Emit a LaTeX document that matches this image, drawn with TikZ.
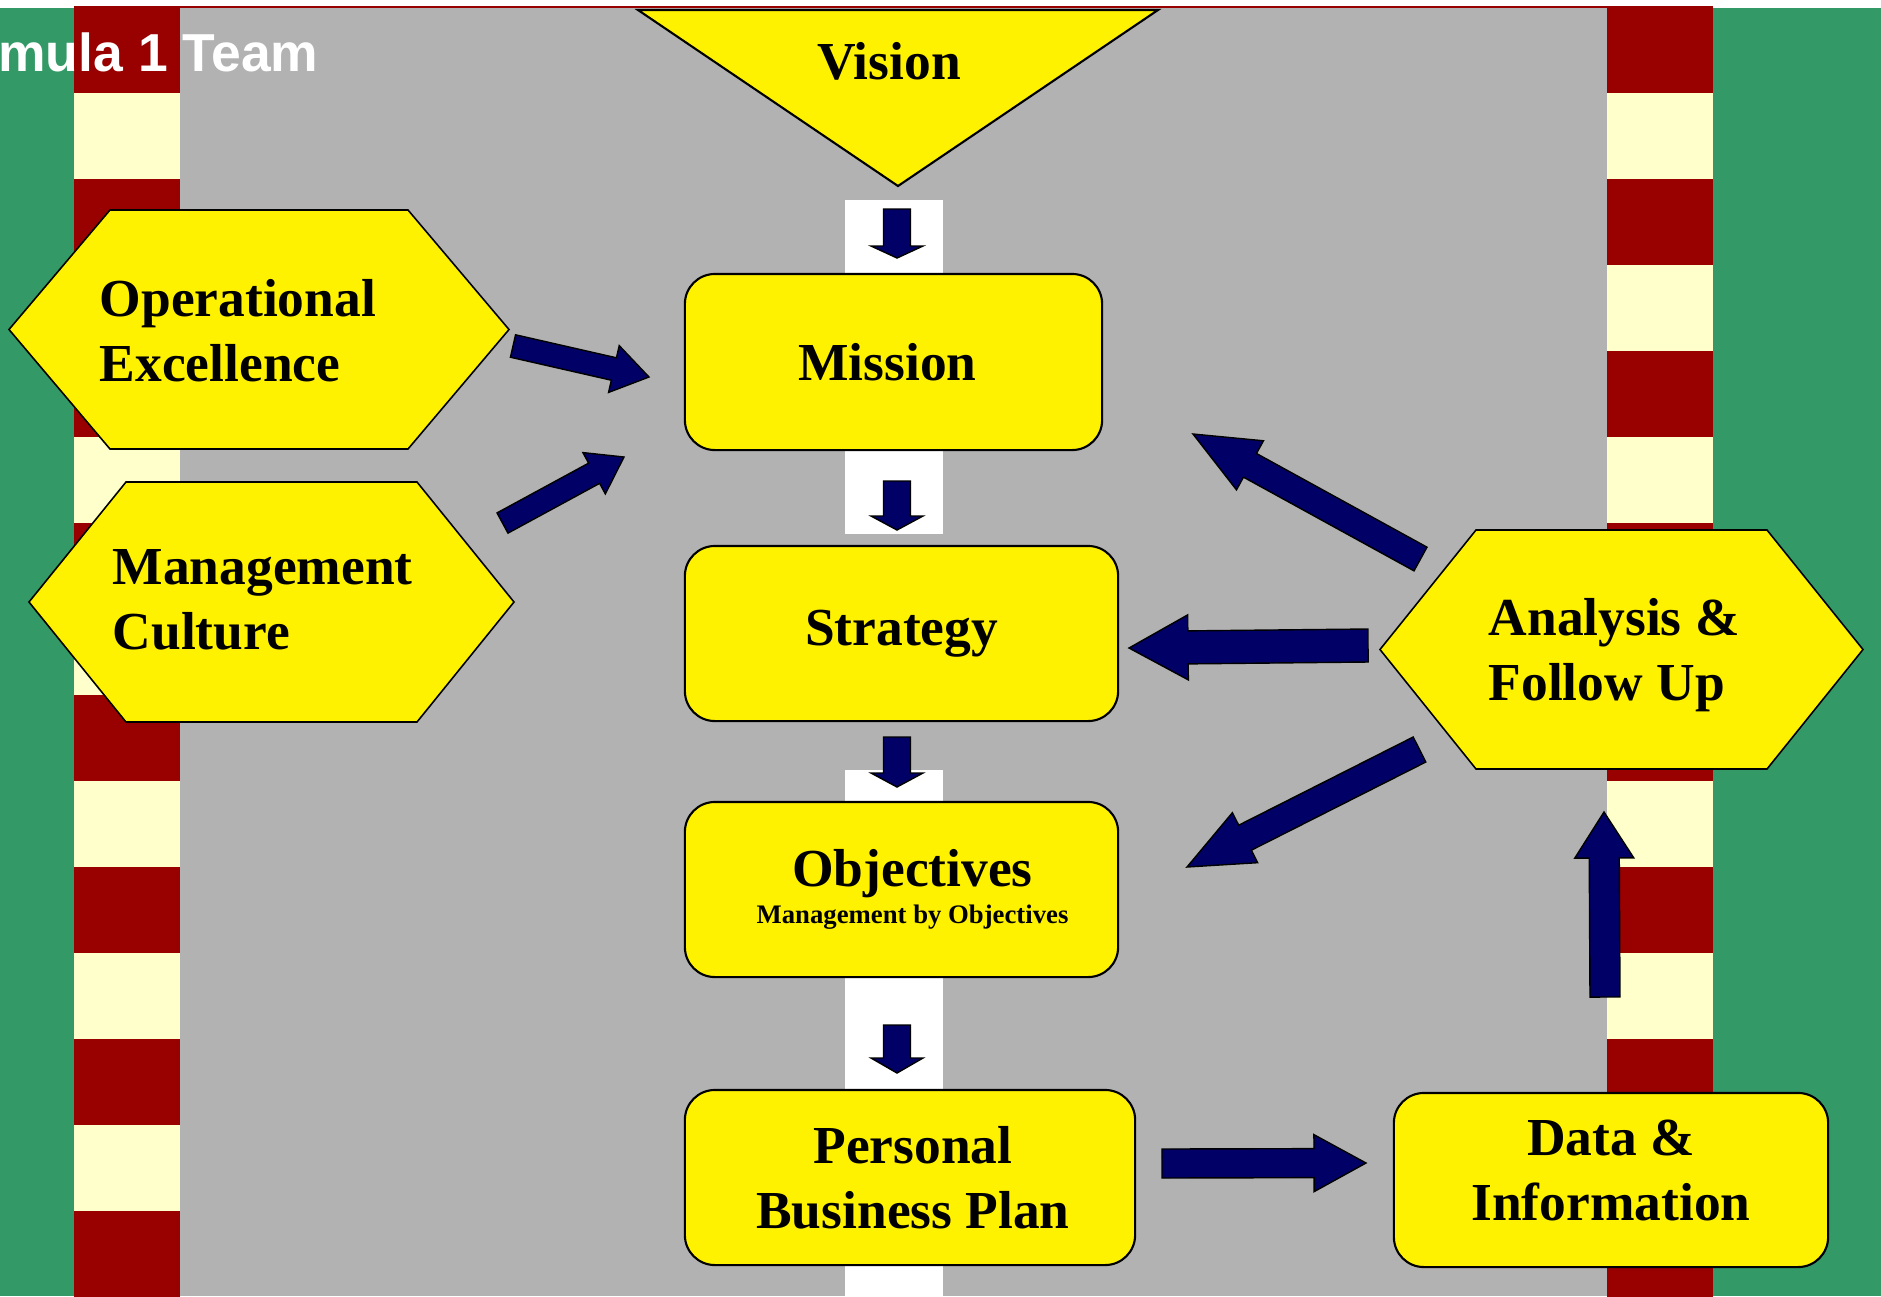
\documentclass[tikz,border=0pt]{standalone}
\usepackage{fontspec}
\setmainfont{Liberation Serif}
\newfontfamily\teamfont{Liberation Sans}
\usetikzlibrary{calc}
\definecolor{grass}{RGB}{51,153,102}
\definecolor{kerbred}{RGB}{153,0,0}
\definecolor{kerbwhite}{RGB}{255,255,204}
\definecolor{tarmac}{RGB}{178,178,178}
\definecolor{arrowblue}{RGB}{0,0,102}
\newcommand{\kerb}[1] % left x in px
{
	% red and cream blocks, 86px high
	\foreach \k in {0,...,14}
	{
		\ifodd\k \def\kc{kerbwhite}\else \def\kc{kerbred}\fi
		\fill[\kc] (#1,{7+86*\k}) rectangle (#1+106,{7+86*(\k+1)});
	}
}
\newcommand{\hexa}[5] % left x, top y, right x, bottom y, point depth
{
	\draw[hexline] (#1,{(#2+#4)/2}) -- (#1+#5,#2) -- (#3-#5,#2) -- (#3,{(#2+#4)/2}) -- (#3-#5,#4) -- (#1+#5,#4) -- cycle;
}
\newcommand{\barrow}[5] % tail, tip, shaft half width, head half width, head length in px
{
	\coordinate (hb) at ($(#2)!#5*0.01cm!(#1)$);
	\draw[blockarrow] ($(#1)!#3*0.01cm!90:(#2)$) -- ($(hb)!#3*0.01cm!90:(#2)$) -- ($(hb)!#4*0.01cm!90:(#2)$) -- (#2) -- ($(hb)!#4*0.01cm!-90:(#2)$) -- ($(hb)!#3*0.01cm!-90:(#2)$) -- ($(#1)!#3*0.01cm!-90:(#2)$) -- cycle;
}
\begin{document}
\begin{tikzpicture}[x=0.01cm, y=-0.01cm,
	bigtext/.style={font=\fontsize{15.2}{18.5}\selectfont\bfseries},
	stage/.style={draw, line width=0.6pt, fill=yellow, rounded corners=0.3cm, align=center, bigtext},
	hexline/.style={draw, line width=0.45pt, fill=yellow},
	hexlabel/.style={anchor=west, align=left, inner sep=0pt, bigtext},
	blockarrow/.style={draw, line width=0.4pt, fill=arrowblue}]
	% page 1881 x 1296 px, 1px = 0.01cm
	\useasboundingbox (0,0) rectangle (1881,1296);
	\fill[white] (0,0) rectangle (1881,1296);
	
	% grass, track and kerbs
	\fill[grass] (0,8) rectangle (74,1296);
	\fill[grass] (1713,8) rectangle (1881,1296);
	\fill[tarmac] (180,7) rectangle (1607,1296);
	\kerb{74}
	\kerb{1607}
	\draw[kerbred, line width=0.5pt] (74,7) -- (1713,7);
	
	% centre line
	\fill[white] (845,200) rectangle (943,534);
	\fill[white] (845,770) rectangle (943,1296);
	
	\node[anchor=base east, text=white, inner sep=0pt, font=\teamfont\fontsize{15.2}{18}\selectfont\bfseries] (team) at (319,71) {mula 1 Team};
	
	% vision
	\draw[hexline, line width=0.6pt] (638,10) -- (1158,10) -- (898,186) -- cycle;
	\node[anchor=base, inner sep=0pt, bigtext] (vision) at (889,79) {Vision};
	
	% hexagons
	\hexa{9}{210}{509}{449}{101};
	\node[hexlabel] (opex) at (99,331) {Operational\\Excellence};
	\hexa{29}{482}{514}{722}{97};
	\node[hexlabel] (culture) at (112,600) {Management\\Culture};
	\hexa{1380}{530}{1863}{769}{96};
	\node[hexlabel] (analysis) at (1488,655) {Analysis \&\\Follow Up};
	
	% boxes
	\node[stage, minimum width=4.17cm, minimum height=1.76cm] (mission) at (893.5,362) {\hspace*{-0.12cm}Mission\rule{0pt}{0.3cm}};
	\node[stage, minimum width=4.33cm, minimum height=1.75cm] (strategy) at (901.5,633.5) {Strategy\rule[-0.1cm]{0pt}{0.1cm}};
	\node[stage, minimum width=4.33cm, minimum height=1.75cm] (objectives) at (901.5,889.5) {\hspace*{0.22cm}Objectives\\[-8pt]\hspace*{0.22cm}{\fontsize{7.6}{9}\selectfont Management by Objectives}};
	\node[stage, minimum width=4.5cm, minimum height=1.75cm] (plan) at (910,1177.5) {\hspace*{0.06cm}Personal\\\hspace*{0.06cm}Business Plan};
	\node[stage, minimum width=4.34cm, minimum height=1.74cm] (data) at (1611,1180) {Data \&\\Information\rule[-0.2cm]{0pt}{0.2cm}};
	
	% arrow ends
	\coordinate (down1 tail) at (897,209);
	\coordinate (down1 tip) at (897,258);
	\coordinate (down2 tail) at (897,481);
	\coordinate (down2 tip) at (897,530);
	\coordinate (down3 tail) at (897,737);
	\coordinate (down3 tip) at (897,787);
	\coordinate (down4 tail) at (897,1025);
	\coordinate (down4 tip) at (897,1073);
	\coordinate (opex tail) at (513,346);
	\coordinate (opex tip) at (649,377);
	\coordinate (culture tail) at (502.5,523);
	\coordinate (culture tip) at (624,457);
	\coordinate (am tail) at (1420.5,559);
	\coordinate (am tip) at (1193,434);
	\coordinate (as tail) at (1368,645.5);
	\coordinate (as tip) at (1129,648);
	\coordinate (ao tail) at (1419.5,749.5);
	\coordinate (ao tip) at (1187,867);
	\coordinate (pd tail) at (1162,1163.5);
	\coordinate (pd tip) at (1366,1163);
	\coordinate (da tail) at (1605,997);
	\coordinate (da tip) at (1604,812);
	
	\barrow{down1 tail}{down1 tip}{13.5}{26}{12};
	\barrow{down2 tail}{down2 tip}{13.5}{26}{14};
	\barrow{down3 tail}{down3 tip}{13.5}{26}{14};
	\barrow{down4 tail}{down4 tip}{13.5}{26}{15};
	\barrow{opex tail}{opex tip}{11.5}{24}{36};
	\barrow{culture tail}{culture tip}{11.5}{23.5}{34};
	\barrow{am tail}{am tip}{13.5}{28}{65};
	\barrow{as tail}{as tip}{16.5}{32.5}{59};
	\barrow{ao tail}{ao tip}{14}{28}{65};
	\barrow{pd tail}{pd tip}{14.5}{28.5}{52};
	\barrow{da tail}{da tip}{15}{29.5}{46};
	
\end{tikzpicture}
\end{document}
